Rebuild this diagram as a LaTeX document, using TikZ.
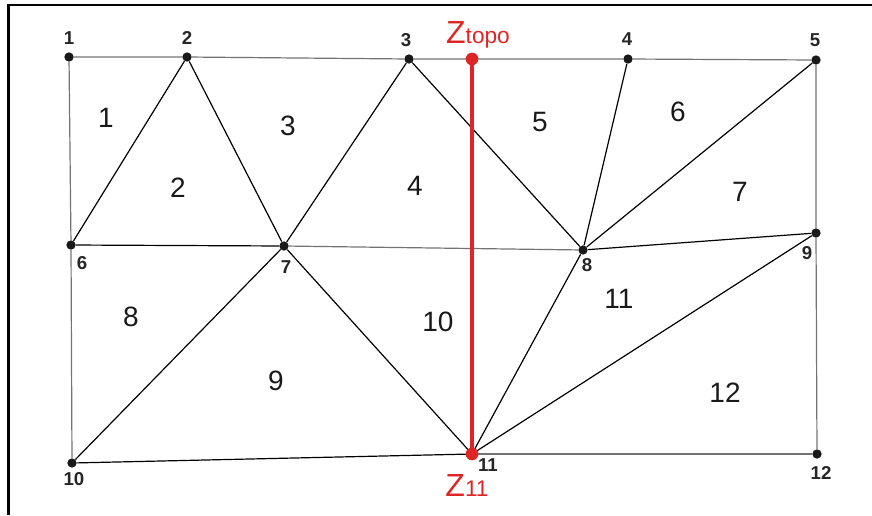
\documentclass[tikz,border=0pt]{standalone}
\usepackage{fontspec}
\setmainfont{Liberation Sans}
\usetikzlibrary{positioning}
\definecolor{zred}{RGB}{222,38,38}

\begin{document}
\begin{tikzpicture}[x=0.75pt, y=-0.75pt,
  dot/.style={circle, fill=black!90, inner sep=0pt, minimum size=7pt},
  rdot/.style={circle, fill=zred, inner sep=0pt, minimum size=9.5pt},
  num/.style={font=\fontsize{14}{14}\selectfont\bfseries, text=black!85, inner sep=0pt},
  elem/.style={font=\fontsize{21}{21}\selectfont, text=black!90},
  zlab/.style={text=zred, inner sep=0pt},
  inner/.style={line width=0.9pt},
  bnd/.style={line width=0.9pt, draw=black!55}]
  \useasboundingbox (0,0) rectangle (872,515);
  \draw[line width=2pt] (8.5,515) -- (8.5,5) -- (872,5);

  % mesh points
  \node[dot] (n1) at (69,57) {};
  \node[dot] (n2) at (187,57) {};
  \node[dot] (n3) at (409,59) {};
  \node[dot] (n4) at (628,59) {};
  \node[dot] (n5) at (816,60) {};
  \node[dot] (n6) at (71,245) {};
  \node[dot] (n7) at (284,246) {};
  \node[dot] (n8) at (583,250) {};
  \node[dot] (n9) at (816,233) {};
  \node[dot] (n10) at (72,463) {};
  \node[dot] (n12) at (817,454) {};
  \coordinate (ztop) at (472,59);
  \coordinate (n11) at (472,454);

  % boundary
  \draw[bnd] (n1) -- (n2) -- (n3) -- (n4) -- (n5);
  \draw[bnd] (n1) -- (n6) -- (n10);
  \draw[bnd] (n5) -- (n9) -- (n12);
  \draw[inner] (n10) -- (n11);
  \draw[bnd] (n11) -- (n12);

  % elements
  \draw[inner] (n2) -- (n6);
  \draw[inner] (n2) -- (n7);
  \draw[inner] (n3) -- (n7);
  \draw[inner] (n3) -- (n8);
  \draw[inner] (n4) -- (n8);
  \draw[inner] (n5) -- (n8);
  \draw[inner] (n8) -- (n9);
  \draw[inner] (n6) -- (n7);
  \draw[bnd] (n7) -- (n8);
  \draw[inner] (n7) -- (n10);
  \draw[inner] (n7) -- (n11);
  \draw[inner] (n8) -- (n11);
  \draw[inner] (n9) -- (n11);

  % profile
  \draw[zred, line width=2.3pt] (ztop) -- (n11);
  \node[rdot] (zt) at (ztop) {};
  \node[rdot] (zb) at (n11) {};
  \node[zlab] (ztl) at (478,35) {{\fontsize{24}{24}\selectfont Z}{\fontsize{17}{17}\selectfont topo}};
  \node[zlab] (zbl) at (467,485) {{\fontsize{24}{24}\selectfont Z}{\fontsize{17}{17}\selectfont 11}};

  % point numbers
  \node[num] (l1) at (69,38) {1};
  \node[num] (l2) at (187,38) {2};
  \node[num] (l3) at (406,40) {3};
  \node[num] (l4) at (627,39) {4};
  \node[num] (l5) at (815,40) {5};
  \node[num] (l6) at (82,263) {6};
  \node[num] (l7) at (286,267) {7};
  \node[num] (l8) at (587,265) {8};
  \node[num] (l9) at (807,253) {9};
  \node[num] (l10) at (74,479) {10};
  \node[num] (l11) at (488,465) {11};
  \node[num] (l12) at (821,473) {12};

  % element numbers
  \node[elem] (e1) at (106,118) {1};
  \node[elem] (e2) at (178,188) {2};
  \node[elem] (e3) at (288,126) {3};
  \node[elem] (e4) at (415,186) {4};
  \node[elem] (e5) at (540,122) {5};
  \node[elem] (e6) at (678,112) {6};
  \node[elem] (e7) at (740,192) {7};
  \node[elem] (e8) at (131,317) {8};
  \node[elem] (e9) at (276,381) {9};
  \node[elem] (e10) at (438,322) {10};
  \node[elem] (e11) at (619,299) {11};
  \node[elem] (e12) at (725,393) {12};
\end{tikzpicture}
\end{document}
